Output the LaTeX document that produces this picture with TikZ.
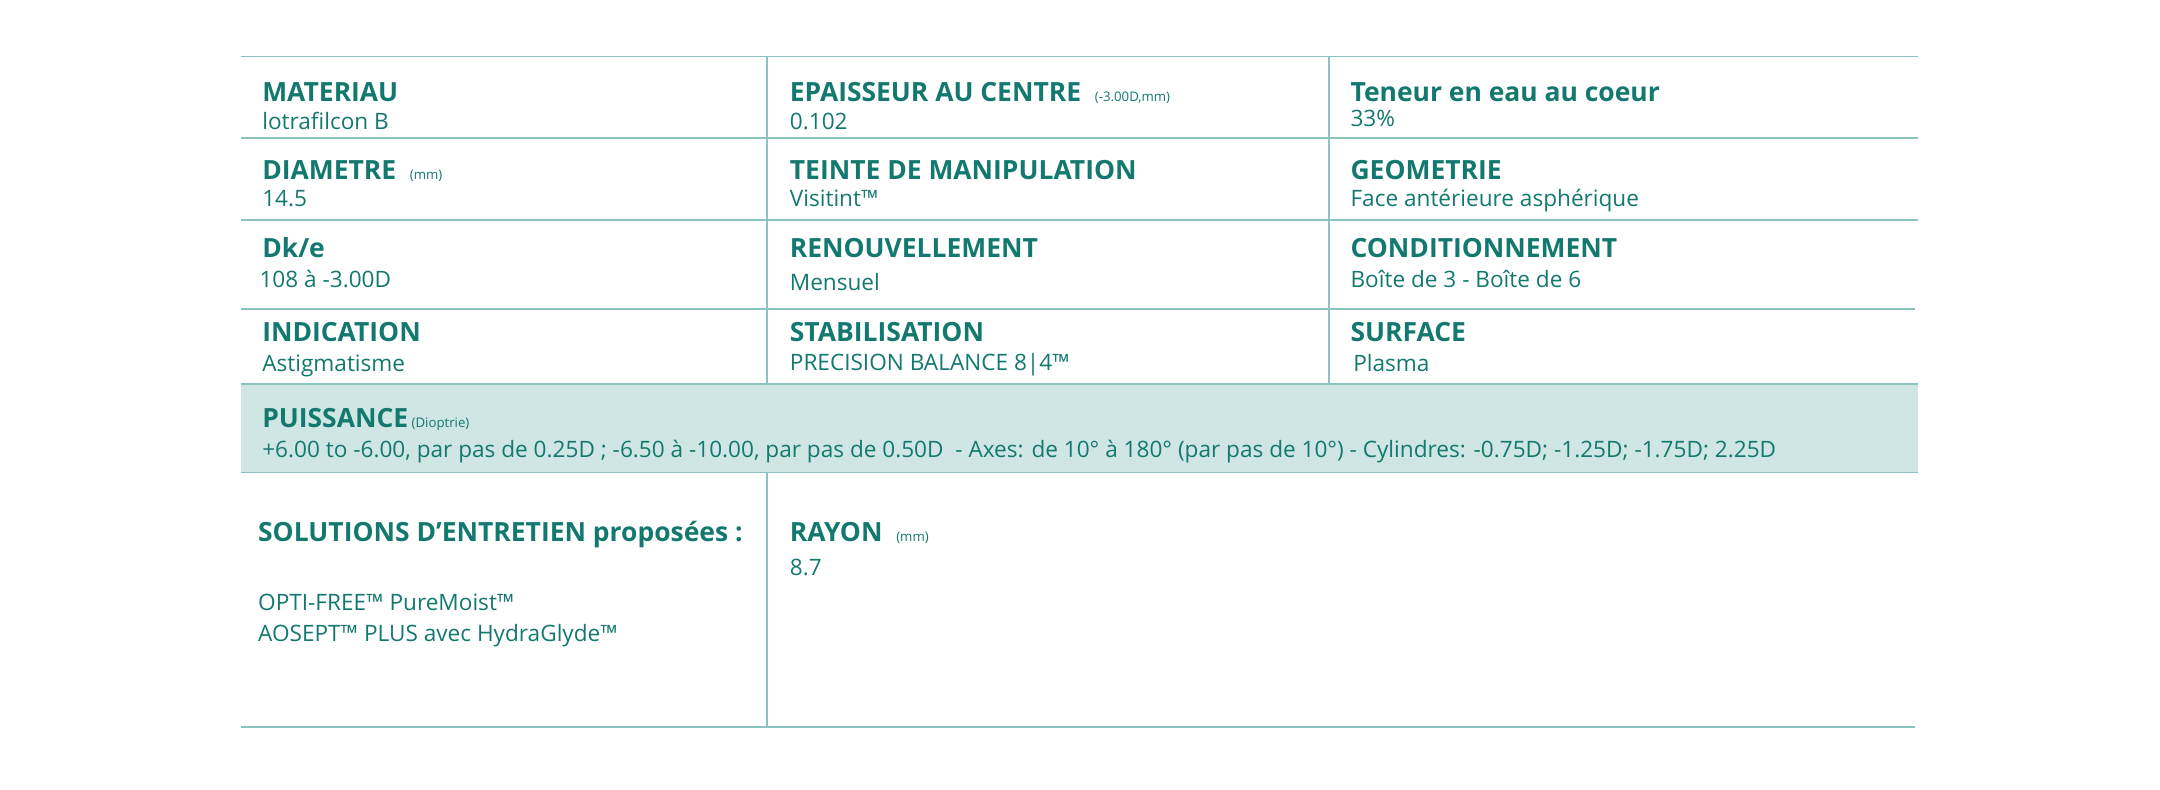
\documentclass[tikz,border=0pt]{standalone}
\usepackage{fontspec}
\setmainfont{Open Sans}
\begin{document}
\begin{tikzpicture}[x=0.5pt,y=-0.5pt,
 ln/.style={draw=rule,line width=0.7pt},
 hd/.style={anchor=base west,inner sep=0,font=\fontsize{9.6}{11}\selectfont\bfseries,text=tealtxt},
 vl/.style={anchor=base west,inner sep=0,font=\fontsize{8.2}{10}\selectfont,text=tealtxt}]
\definecolor{rule}{HTML}{8CC5C0}
\definecolor{tealtxt}{HTML}{13796F}
\definecolor{band}{HTML}{CFE6E5}
\newcommand{\sm}[1]{{\fontsize{4.8}{6}\selectfont\mdseries\ #1}}
\useasboundingbox (0,0) rectangle (1568,573);
\fill[band] (175,279) rectangle (1392,343);
\draw[ln] (175,41) -- (1392,41);
\draw[ln] (175,100) -- (1392,100);
\draw[ln] (175,160) -- (1392,160);
\draw[ln] (175,224) -- (1390,224);
\draw[ln] (175,279) -- (1392,279);
\draw[ln] (175,343) -- (1392,343);
\draw[ln] (175,528) -- (1390,528);
\draw[ln] (557,41) -- (557,279);
\draw[ln] (965,41) -- (965,279);
\draw[ln] (557,343) -- (557,528);
\node[hd] (h1) at (190,74) {MATERIAU};
\node[vl] (v1) at (190,94) {lotrafilcon B};
\node[hd] (h2) at (573,74) {EPAISSEUR AU CENTRE \sm{\ (-3.00D,mm)}};
\node[vl] (v2) at (573,94) {0.102};
\node[hd] (h3) at (980,74) {Teneur en eau au coeur};
\node[vl] (v3) at (980,92) {33\%};
\node[hd] (h4) at (190,130) {DIAMETRE \sm{\ (mm)}};
\node[vl] (v4) at (190,150) {14.5};
\node[hd] (h5) at (573,130) {TEINTE DE MANIPULATION};
\node[vl] (v5) at (573,150) {Visitint™};
\node[hd] (h6) at (980,130) {GEOMETRIE};
\node[vl] (v6) at (980,150) {Face antérieure asphérique};
\node[hd] (h7) at (190,187) {Dk/e};
\node[vl] (v7) at (188,209) {108 à -3.00D};
\node[hd] (h8) at (573,187) {RENOUVELLEMENT};
\node[vl] (v8) at (573,211) {Mensuel};
\node[hd] (h9) at (980,187) {CONDITIONNEMENT};
\node[vl] (v9) at (980,209) {Boîte de 3 - Boîte de 6};
\node[hd] (h10) at (190,248) {INDICATION};
\node[vl] (v10) at (190,270) {Astigmatisme};
\node[hd] (h11) at (573,248) {STABILISATION};
\node[vl] (v11) at (573,269) {PRECISION BALANCE 8|4™};
\node[hd] (h12) at (980,248) {SURFACE};
\node[vl] (v12) at (982,270) {Plasma};
\node[hd] (hp) at (190,310) {PUISSANCE\sm{(Dioptrie)}};
\node[vl] (vp) at (190,332) {+6.00 to -6.00, par pas de 0.25D ; -6.50 à -10.00, par pas de 0.50D\ \ - Axes: de 10° à 180° (par pas de 10°) - Cylindres: -0.75D; -1.25D; -1.75D; 2.25D};
\node[hd] (hs) at (187,393) {SOLUTIONS D’ENTRETIEN proposées :};
\node[vl] (s1) at (187,443) {OPTI-FREE™ PureMoist™};
\node[vl] (s2) at (187,466) {AOSEPT™ PLUS avec HydraGlyde™};
\node[hd] (hr) at (573,393) {RAYON \sm{\ (mm)}};
\node[vl] (vr) at (573,418) {8.7};
\end{tikzpicture}
\end{document}
